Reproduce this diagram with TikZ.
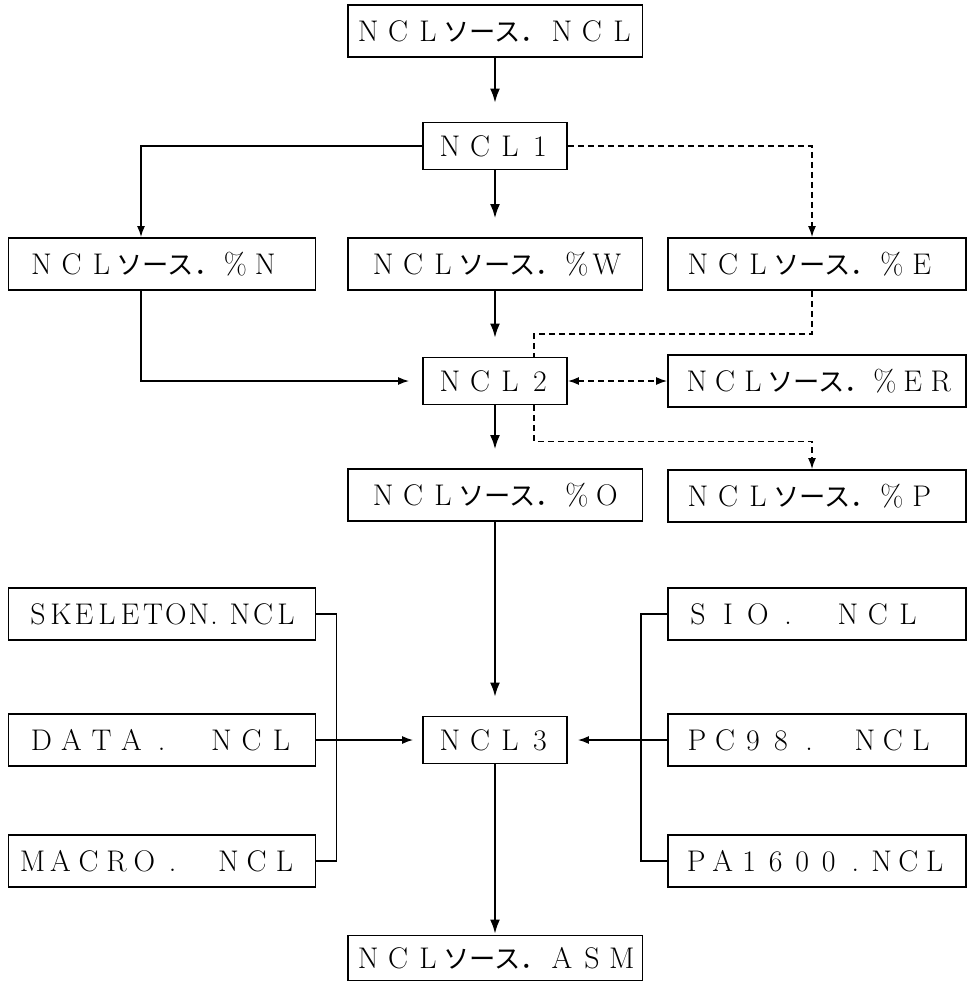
\documentclass[tikz,border=0pt]{standalone}
\usepackage{fontspec}
\newfontfamily\jp[Scale=0.88]{Noto Sans CJK JP}
\usetikzlibrary{arrows.meta}

% one letter per fixed cell, as in the typed original
\newlength{\cellw}
\newcommand{\fw}[2][0.6cm]{\setlength{\cellw}{#1}\fwloop#2\relax}
\def\fwloop#1{\ifx\relax#1\else\makebox[\cellw]{#1}\expandafter\fwloop\fi}
\newcommand{\srcjp}{{\jp ソース．}}

\begin{document}
\begin{tikzpicture}[x=0.02cm,y=-0.02cm,
  box/.style={draw,line width=1.1pt,minimum height=1.04cm,inner ysep=2pt,
              font=\fontsize{17}{20}\selectfont},
  cbox/.style={box,minimum width=5.9cm,inner xsep=2pt},
  pbox/.style={box,minimum width=2.88cm,minimum height=0.94cm},
  lbox/.style={box,text width=5.42cm,inner xsep=0.36cm,align=left},
  rbox/.style={box,text width=5.36cm,inner xsep=0.3cm,align=left},
  thk/.style={-{Latex[length=0.3cm,width=0.2cm]},line width=1.7pt,shorten >=0.36cm},
  thn/.style={-{Latex[length=0.22cm,width=0.16cm]},line width=0.8pt},
  dl/.style={line width=0.8pt,dash pattern=on 0.12cm off 0.08cm},
  dla/.style={dl,-{Latex[length=0.22cm,width=0.16cm]}}]

  \useasboundingbox (0,0) rectangle (969,987);

  % centre column
  \node[cbox] (src) at (495,31)  {\fw{NCL}\srcjp\fw{NCL}};
  \node[pbox] (n1)  at (495,146) {\fw{NCL1}};
  \node[cbox] (nW)  at (495,264) {\fw{NCL}\srcjp\fw{\%W}};
  \node[pbox] (n2)  at (495,381) {\fw{NCL2}};
  \node[cbox] (nO)  at (495,495) {\fw{NCL}\srcjp\fw{\%O}};
  \node[pbox] (n3)  at (495,740) {\fw{NCL3}};
  \node[cbox,minimum height=0.9cm] (asm) at (495,958) {\fw{NCL}\srcjp\fw{ASM}};

  % left column
  \node[lbox] (nN) at (162,264) {\fw{NCL}\srcjp\fw{\%N}};
  \node[lbox] (sk) at (162,614) {\fw[0.46cm]{SKELETON}\makebox[0.36cm][l]{.}\fw[0.46cm]{NCL}};
  \node[lbox] (da) at (162,740) {\fw{DATA.~NCL}};
  \node[lbox,inner xsep=0.2cm,text width=5.74cm] (ma) at (162,861) {\fw[0.56cm]{MACRO.~NCL}};

  % right column
  \node[rbox] (nE)  at (817,264) {\fw{NCL}\srcjp\fw{\%E}};
  \node[rbox] (nER) at (817,381) {\fw[0.56cm]{NCL}\srcjp\fw[0.56cm]{\%ER}};
  \node[rbox] (nP)  at (817,496) {\fw{NCL}\srcjp\fw{\%P}};
  \node[rbox] (sio) at (817,614) {\fw{SIO.~NCL}};
  \node[rbox] (pc)  at (817,740) {\fw[0.56cm]{PC98.~NCL}};
  \node[rbox] (pa)  at (817,861) {\fw[0.53cm]{PA1600.NCL}};

  % main flow
  \draw[thk] (src) -- (n1);
  \draw[thk] (n1) -- (nW);
  \draw[thk] (nW) -- (n2);
  \draw[thk] (n2) -- (nO);
  \draw[thk] (nO) -- (n3);
  \draw[thk,shorten >=0pt] (n3) -- (asm);

  \draw[thn] (n1.west) -| ([xshift=-0.42cm]nN.north);
  \draw[thn,shorten >=0.26cm] ([xshift=-0.42cm]nN.south) |- (n2.west);
  \draw[dla] (n1.east) -| ([xshift=-0.1cm]nE.north);
  \draw[dl] ([xshift=-0.1cm]nE.south) -- ++(0,43) -| ([xshift=0.78cm]n2.north);
  \draw[dl,{Latex[length=0.22cm,width=0.16cm]}-{Latex[length=0.22cm,width=0.16cm]}] (n2) -- (nER);
  \draw[dla] ([xshift=0.78cm]n2.south) -- ++(0,36) -| ([xshift=-0.1cm]nP.north);

  % include files
  \draw[thin,line width=0.8pt] (sk.east) -- ++(20,0) |- (ma.east);
  \draw[thn,shorten >=0.18cm] (da) -- (n3);
  \draw[thin,line width=0.8pt] (sio.west) -- ++(-26,0) |- (pa.west);
  \draw[thn,shorten >=0.2cm] (pc) -- (n3);
\end{tikzpicture}
\end{document}
